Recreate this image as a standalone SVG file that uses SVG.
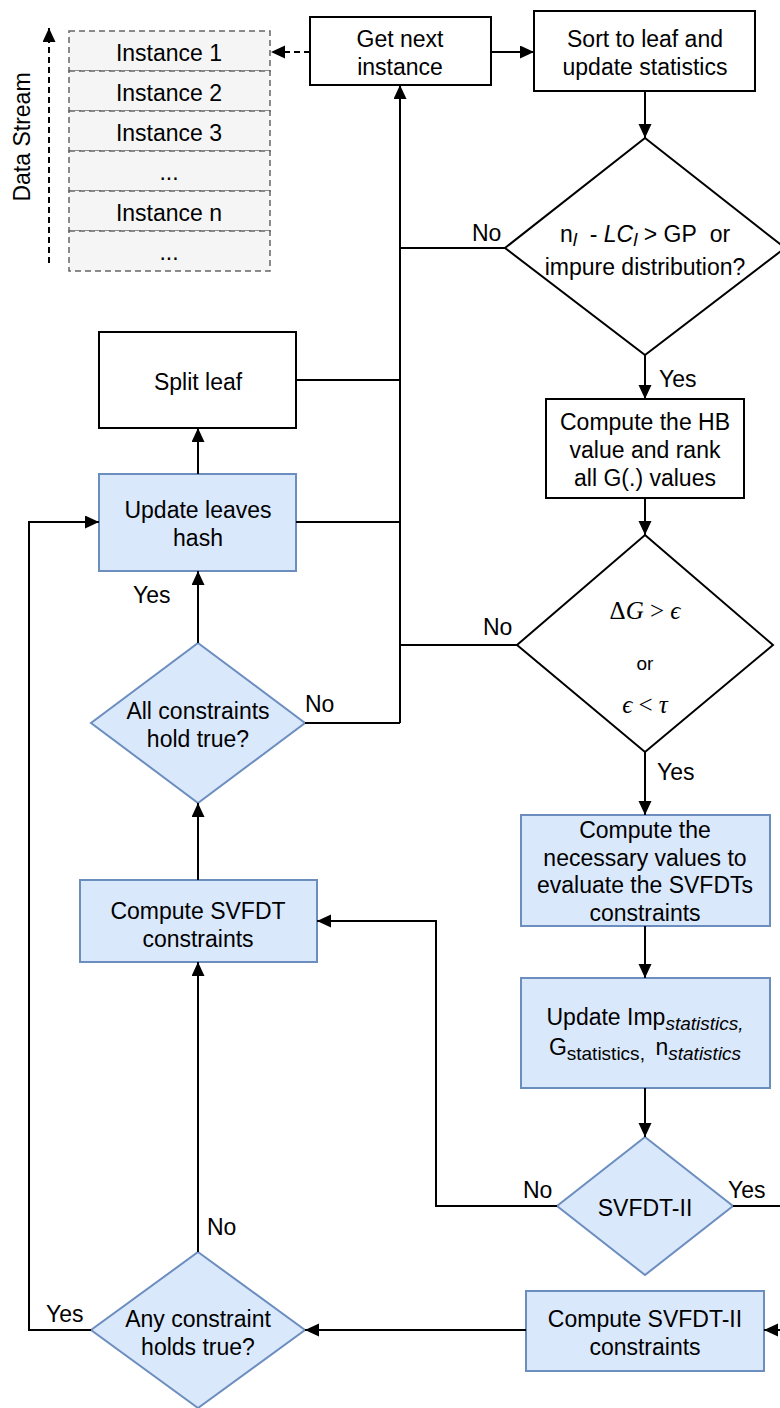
<svg xmlns="http://www.w3.org/2000/svg" width="780" height="1408" viewBox="0 0 780 1408">
<defs>
<marker id="arr" markerUnits="userSpaceOnUse" markerWidth="15" markerHeight="14" refX="14" refY="6.5" orient="auto">
<path d="M0,0 L14,6.5 L0,13 z" fill="#000"/>
</marker>
<style>
text{font-family:"Liberation Sans",Arial,Helvetica,sans-serif;font-size:23px;fill:#000;text-anchor:middle}
.lbl{text-anchor:start}
.box{fill:#fff;stroke:#000;stroke-width:2}
.blue{fill:#dae8fc;stroke:#6c8ebf;stroke-width:2}
.row{fill:#f5f5f5;stroke:#666;stroke-width:1.5;stroke-dasharray:6 4}
.ln{fill:none;stroke:#000;stroke-width:2}
.ar{marker-end:url(#arr)}
.dash{stroke-dasharray:6 4}
.math{font-family:"Liberation Serif","Times New Roman",serif;font-size:25px}
.sub{font-size:19px}
</style>
</defs>
<rect width="780" height="1408" fill="#fff"/>

<g id="data-stream">
<rect class="row" x="69" y="31" width="201" height="40"/>
<rect class="row" x="69" y="71" width="201" height="40"/>
<rect class="row" x="69" y="111" width="201" height="40"/>
<rect class="row" x="69" y="151" width="201" height="40"/>
<rect class="row" x="69" y="191" width="201" height="40"/>
<rect class="row" x="69" y="231" width="201" height="40"/>
<text x="169" y="61">Instance 1</text>
<text x="169" y="101">Instance 2</text>
<text x="169" y="141">Instance 3</text>
<text x="169" y="180">...</text>
<text x="169" y="221">Instance n</text>
<text x="169" y="260">...</text>
<line class="ln ar dash" x1="49" y1="263" x2="49" y2="28"/>
<text transform="translate(30,137) rotate(-90)">Data Stream</text>
</g>

<g id="get-next">
<rect class="box" x="310" y="17" width="181" height="68"/>
<text x="400" y="47">Get next</text>
<text x="400" y="75">instance</text>
</g>

<g id="sort-leaf">
<rect class="box" x="534" y="11" width="221" height="80"/>
<text x="645" y="47">Sort to leaf and</text>
<text x="645" y="75">update statistics</text>
</g>

<g id="decision-gp">
<polygon class="box" points="645,138 785,248 645,355 505,248"/>
<text x="645" y="242">n<tspan class="sub" font-style="italic" dy="4">l</tspan><tspan dy="-4">&#160; - </tspan><tspan font-style="italic">LC</tspan><tspan class="sub" font-style="italic" dy="4">l</tspan><tspan dy="-4"> &gt; GP&#160; or</tspan></text>
<text x="645" y="275">impure distribution?</text>
</g>

<g id="compute-hb">
<rect class="box" x="546" y="399" width="198" height="99"/>
<text x="645" y="430">Compute the HB</text>
<text x="645" y="458">value and rank</text>
<text x="645" y="486">all G(.) values</text>
</g>

<g id="decision-delta">
<polygon class="box" points="645,535 773,645 645,752 517,645"/>
<text class="math" x="645" y="619">Δ<tspan font-style="italic">G</tspan> &gt; <tspan font-style="italic">ϵ</tspan></text>
<text x="645" y="670" style="font-size:19px">or</text>
<text class="math" x="645" y="713"><tspan font-style="italic">ϵ</tspan> &lt; <tspan font-style="italic">τ</tspan></text>
</g>

<g id="compute-necessary">
<rect class="blue" x="521" y="815" width="249" height="111"/>
<text x="645" y="838">Compute the</text>
<text x="645" y="866">necessary values to</text>
<text x="645" y="893">evaluate the SVFDTs</text>
<text x="645" y="921">constraints</text>
</g>

<g id="update-imp">
<rect class="blue" x="521" y="978" width="249" height="110"/>
<text x="645" y="1025">Update Imp<tspan class="sub" font-style="italic" dy="5">statistics,</tspan></text>
<text x="645" y="1055">G<tspan class="sub" dy="5">statistics</tspan><tspan class="sub">,&#160; </tspan><tspan dy="-5">n</tspan><tspan class="sub" font-style="italic" dy="5">statistics</tspan></text>
</g>

<g id="decision-svfdt2">
<polygon class="blue" points="645,1137 733,1206 645,1275 557,1206"/>
<text x="645" y="1216">SVFDT-II</text>
</g>

<g id="compute-svfdt2">
<rect class="blue" x="526" y="1291" width="238" height="80"/>
<text x="645" y="1327">Compute SVFDT-II</text>
<text x="645" y="1355">constraints</text>
</g>

<g id="decision-any">
<polygon class="blue" points="198,1252 305,1330 198,1408 91,1330"/>
<text x="198" y="1327">Any constraint</text>
<text x="198" y="1355">holds true?</text>
</g>

<g id="compute-svfdt">
<rect class="blue" x="80" y="880" width="237" height="82"/>
<text x="198" y="919">Compute SVFDT</text>
<text x="198" y="947">constraints</text>
</g>

<g id="decision-all">
<polygon class="blue" points="198,643 305,723 198,803 91,723"/>
<text x="198" y="719">All constraints</text>
<text x="198" y="747">hold true?</text>
</g>

<g id="update-leaves">
<rect class="blue" x="99" y="474" width="197" height="97"/>
<text x="198" y="518">Update leaves</text>
<text x="198" y="546">hash</text>
</g>

<g id="split-leaf">
<rect class="box" x="99" y="332" width="197" height="96"/>
<text x="198" y="390">Split leaf</text>
</g>

<g id="connectors">
<line class="ln ar" x1="491" y1="52" x2="534" y2="52"/>
<line class="ln ar dash" x1="310" y1="52" x2="271" y2="52"/>
<line class="ln ar" x1="645" y1="91" x2="645" y2="138"/>
<line class="ln" x1="505" y1="248" x2="400" y2="248"/>
<line class="ln ar" x1="400" y1="723" x2="400" y2="85"/>
<line class="ln ar" x1="645" y1="355" x2="645" y2="399"/>
<line class="ln ar" x1="645" y1="498" x2="645" y2="535"/>
<line class="ln" x1="517" y1="645" x2="400" y2="645"/>
<line class="ln ar" x1="645" y1="752" x2="645" y2="815"/>
<line class="ln ar" x1="645" y1="926" x2="645" y2="978"/>
<line class="ln ar" x1="645" y1="1088" x2="645" y2="1137"/>
<polyline class="ln ar" points="557,1206 436,1206 436,921 317,921"/>
<polyline class="ln ar" points="733,1206 800,1206 800,1330 764,1330"/>
<line class="ln ar" x1="526" y1="1330" x2="305" y2="1330"/>
<line class="ln ar" x1="198" y1="1252" x2="198" y2="962"/>
<polyline class="ln ar" points="91,1330 29,1330 29,522 99,522"/>
<line class="ln ar" x1="198" y1="880" x2="198" y2="803"/>
<line class="ln ar" x1="198" y1="643" x2="198" y2="571"/>
<line class="ln" x1="305" y1="723" x2="400" y2="723"/>
<line class="ln ar" x1="198" y1="474" x2="198" y2="428"/>
<line class="ln" x1="296" y1="522" x2="400" y2="522"/>
<line class="ln" x1="296" y1="380" x2="400" y2="380"/>
<text class="lbl" x="472" y="241">No</text>
<text class="lbl" x="659" y="387">Yes</text>
<text class="lbl" x="483" y="635">No</text>
<text class="lbl" x="657" y="780">Yes</text>
<text class="lbl" x="523" y="1198">No</text>
<text class="lbl" x="728" y="1198">Yes</text>
<text class="lbl" x="207" y="1235">No</text>
<text class="lbl" x="46" y="1322">Yes</text>
<text class="lbl" x="305" y="712">No</text>
<text class="lbl" x="133" y="603">Yes</text>
</g>
</svg>
